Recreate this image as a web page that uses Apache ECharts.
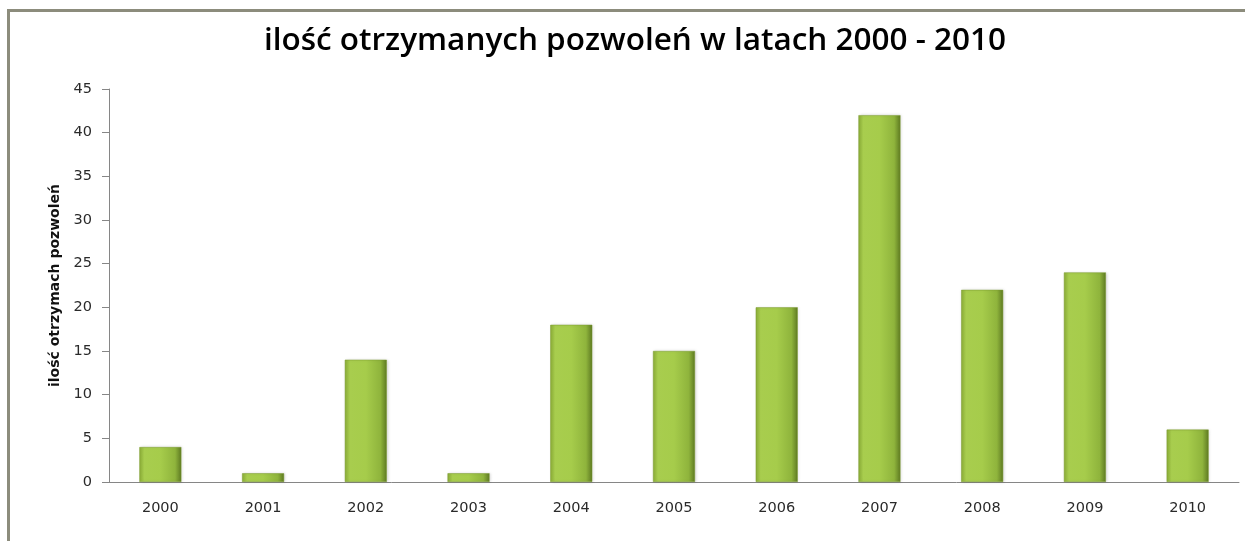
<!DOCTYPE html>
<html>
<head>
<meta charset="utf-8">
<script src="https://cdn.jsdelivr.net/npm/echarts@6/dist/echarts.min.js"></script>
<style>
  html, body { margin: 0; padding: 0; background: #fff; overflow: hidden; }
  #frame { position: absolute; left: 7px; top: 9px; width: 1250px; height: 545px;
           border-top: 3px solid #8c8c7c; border-left: 3px solid #8c8c7c; }
  #chart { position: absolute; left: 0; top: 0; width: 1245px; height: 541px; }
</style>
</head>
<body>
<div id="frame"></div>
<div id="chart"></div>
<script>
var myChart = echarts.init(document.getElementById('chart'));

// data
const years = ['2000', '2001', '2002', '2003', '2004', '2005', '2006', '2007', '2008', '2009', '2010'];
const permits = [4, 1, 14, 1, 18, 15, 20, 42, 22, 24, 6];

const barColor = new echarts.graphic.LinearGradient(0, 0, 1, 0, [
    { offset: 0, color: '#8cae38' },
    { offset: 0.12, color: '#a8cd4e' },
    { offset: 0.5, color: '#a6cc4b' },
    { offset: 0.85, color: '#8fb43c' },
    { offset: 1, color: '#5e7a22' }
]);

option = {
    animation: false,
    title: {
        text: 'ilość otrzymanych pozwoleń w latach 2000 - 2010',
        left: 630,
        textAlign: 'center',
        top: 20,
        textStyle: {
            fontFamily: 'Open Sans',
            fontWeight: 600,
            fontSize: 31.5,
            color: '#000'
        }
    },
    grid: {
        left: 109,
        right: 6,
        top: 89,
        bottom: 59
    },
    xAxis: {
        type: 'category',
        data: years,
        axisLine: { lineStyle: { color: '#868686', width: 1 } },
        axisTick: { show: false },
        axisLabel: {
            margin: 19,
            fontFamily: 'DejaVu Sans',
            fontSize: 14.5,
            color: '#2a2a2a'
        }
    },
    yAxis: {
        type: 'value',
        min: 0,
        max: 45,
        interval: 5,
        name: 'ilość otrzymach pozwoleń',
        nameLocation: 'middle',
        nameGap: 46,
        nameTextStyle: {
            fontFamily: 'DejaVu Sans',
            fontWeight: 'bold',
            fontSize: 14,
            color: '#111'
        },
        axisLine: { show: true, lineStyle: { color: '#868686', width: 1 } },
        axisTick: { show: true, inside: false, length: 7, lineStyle: { color: '#868686' } },
        splitLine: { show: false },
        axisLabel: {
            margin: 17,
            fontFamily: 'DejaVu Sans',
            fontSize: 14.5,
            color: '#2a2a2a'
        }
    },
    series: [
        {
            name: 'ilość',
            type: 'bar',
            data: permits,
            barWidth: 42,
            itemStyle: {
                color: barColor,
                borderColor: '#7a9a2e',
                borderWidth: 0.5,
                shadowColor: 'rgba(0,0,0,0.15)',
                shadowBlur: 3,
                shadowOffsetX: 1
            }
        }
    ]
};

myChart.setOption(option);
</script>
</body>
</html>
